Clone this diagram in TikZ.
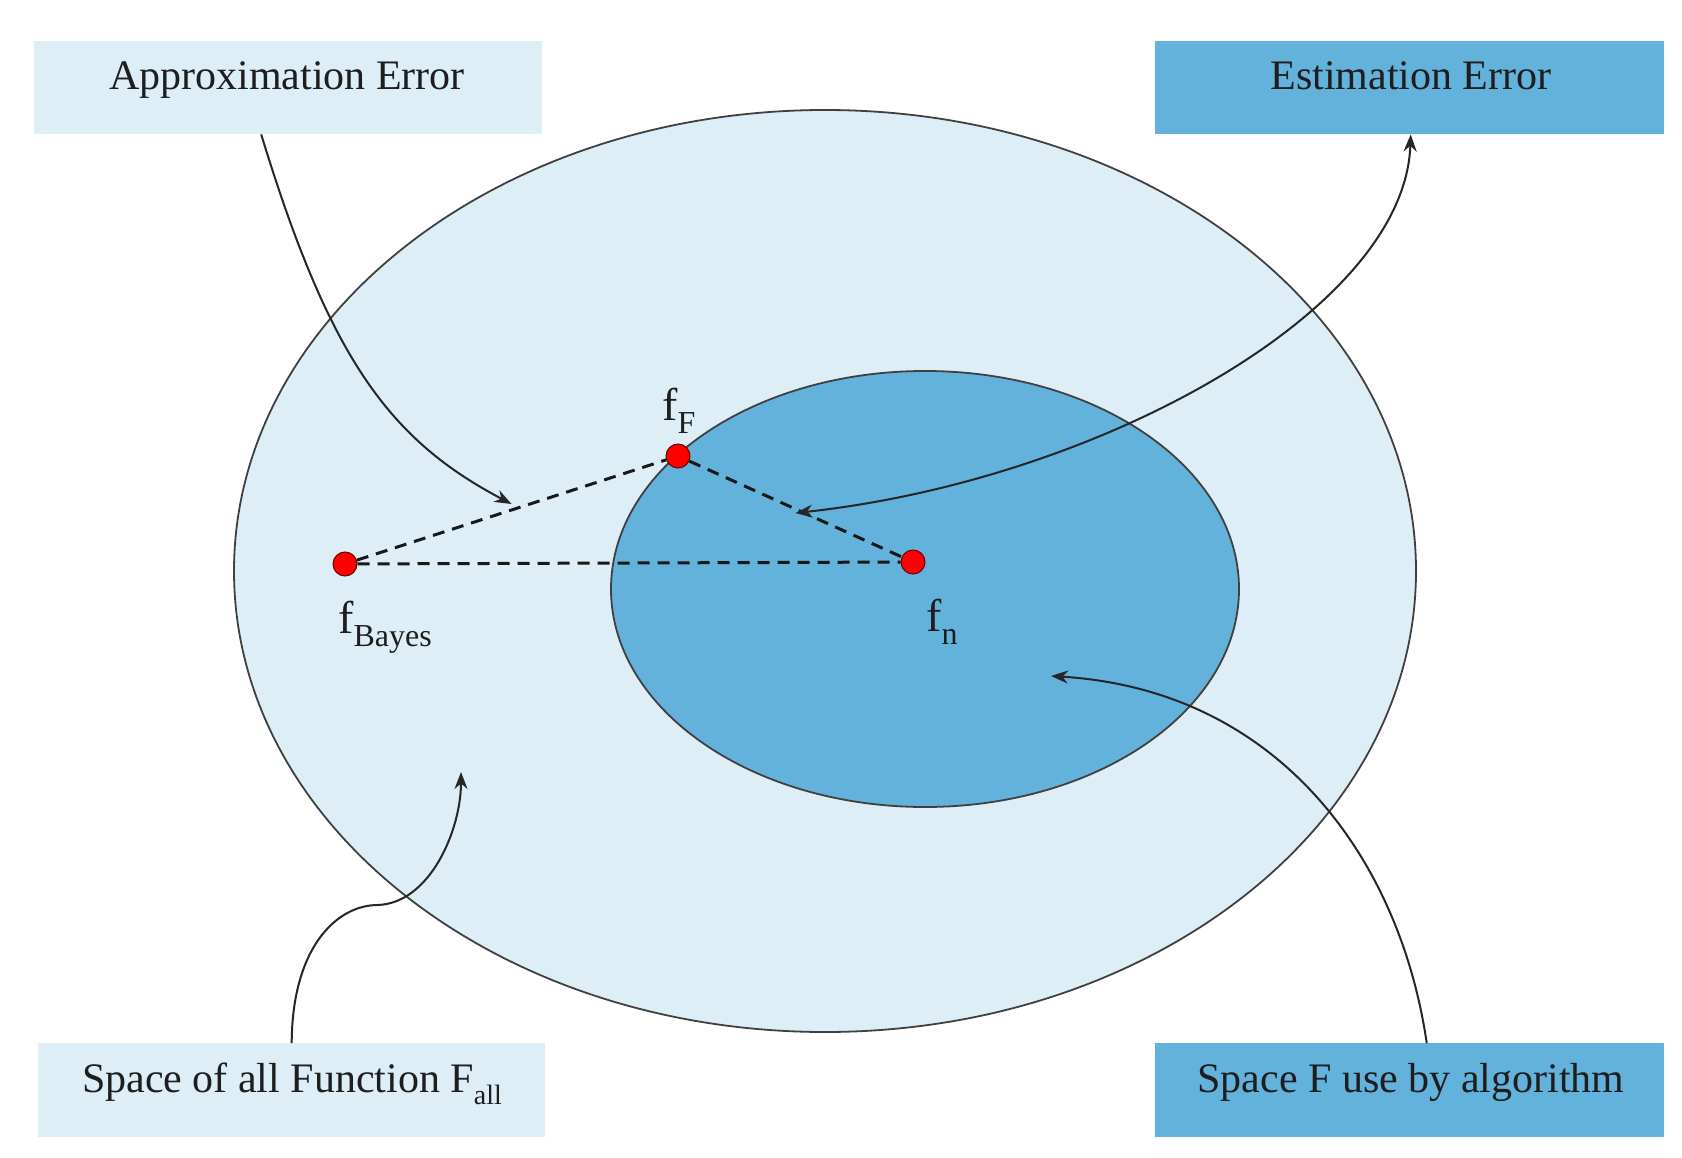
\documentclass[tikz,border=0pt]{standalone}
\usepackage{fontspec}
\setmainfont{Liberation Serif}
\usetikzlibrary{arrows.meta,calc}
\definecolor{lightblue}{HTML}{DDEEF7}
\definecolor{midblue}{HTML}{62B2DC}
\definecolor{txt}{HTML}{1E1E1E}
\newcommand{\lowsub}[2]{\raisebox{-0.3em}{\fontsize{#1}{#1}\selectfont #2}}
\begin{document}
\begin{tikzpicture}[x=1pt,y=-1pt,
  lbox/.style={fill=lightblue, draw=none, inner sep=0pt},
  dbox/.style={fill=midblue, draw=none, inner sep=0pt},
  boxtext/.style={font=\fontsize{42}{50}\selectfont, text=txt, inner sep=0pt, anchor=base},
  ptlabel/.style={font=\fontsize{46}{52}\selectfont, text=txt, inner sep=0pt, anchor=base west},
  dot/.style={circle, fill=red, draw=red!45!black, line width=1pt, minimum size=24pt, inner sep=0pt},
  conn/.style={line width=2pt, draw=black!85, -{Stealth[length=17pt,width=13pt]}},
  biconn/.style={line width=2pt, draw=black!85, {Stealth[length=17pt,width=13pt]}-{Stealth[length=17pt,width=13pt]}},
  dashline/.style={dash pattern=on 12pt off 8pt, line width=3pt, draw=black!90},
  region/.style={draw=black!75, line width=1.8pt},
]
\useasboundingbox (0,0) rectangle (1682,1158);
\fill[white] (0,0) rectangle (1682,1158);

% regions
\draw[region, fill=lightblue] (825,571) ellipse [x radius=591pt, y radius=461pt];
\draw[region, fill=midblue] (925,589) ellipse [x radius=314pt, y radius=218pt];

% boxes
\node[lbox, minimum width=508pt, minimum height=93pt, anchor=north west] (approxbox) at (34,41) {};
\node[dbox, minimum width=509pt, minimum height=93pt, anchor=north west] (estbox) at (1155,41) {};
\node[lbox, minimum width=507pt, minimum height=94pt, anchor=north west] (allbox) at (38,1043) {};
\node[dbox, minimum width=509pt, minimum height=94pt, anchor=north west] (fbox) at (1155,1043) {};

\node[boxtext] (approxtext) at (287,90) {Approximation Error};
\node[boxtext] (esttext) at (1411,90) {Estimation Error};
\node[boxtext] (alltext) at (292,1092) {Space of all Function F\lowsub{28}{all}};
\node[boxtext] (ftext) at (1411,1092) {Space F use by algorithm};

% points
\node[dot] (fB) at (345,564) {};
\node[dot] (fF) at (678,456) {};
\node[dot] (fN) at (913,562) {};

\draw[dashline] (fB) -- (fF);
\draw[dashline] (fF) -- (fN);
\draw[dashline] (fB) -- (fN);

\node[ptlabel] (lF) at (662,420) {f\lowsub{32}{F}};
\node[ptlabel] (lB) at (338,633) {f\lowsub{32}{Bayes}};
\node[ptlabel] (lN) at (926,631) {f\lowsub{32}{n}};

% connector targets
\coordinate (aeTip) at ($(fB)!0.5!(fF)+(0,-6)$);
\coordinate (eeTip) at ($(fF)!0.5!(fN)+(0,4)$);
\coordinate (fTip) at (1051,676);
\coordinate (allTip) at (461,772);
\coordinate (allMid) at (378,905);

% connectors
\draw[conn] ([xshift=-27pt]approxbox.south) .. controls (330,360) and (390,440) .. (aeTip);
\draw[biconn] (eeTip) .. controls (1100,480) and (1405,310) .. ([xshift=1pt]estbox.south);
\draw[conn] ([xshift=17pt]fbox.north) .. controls (1400,860) and (1280,690) .. (fTip);
\draw[conn] (allbox.north) .. controls (292,950) and (335,905) .. (allMid) .. controls (430,903) and (461,830) .. (allTip);
\end{tikzpicture}
\end{document}
